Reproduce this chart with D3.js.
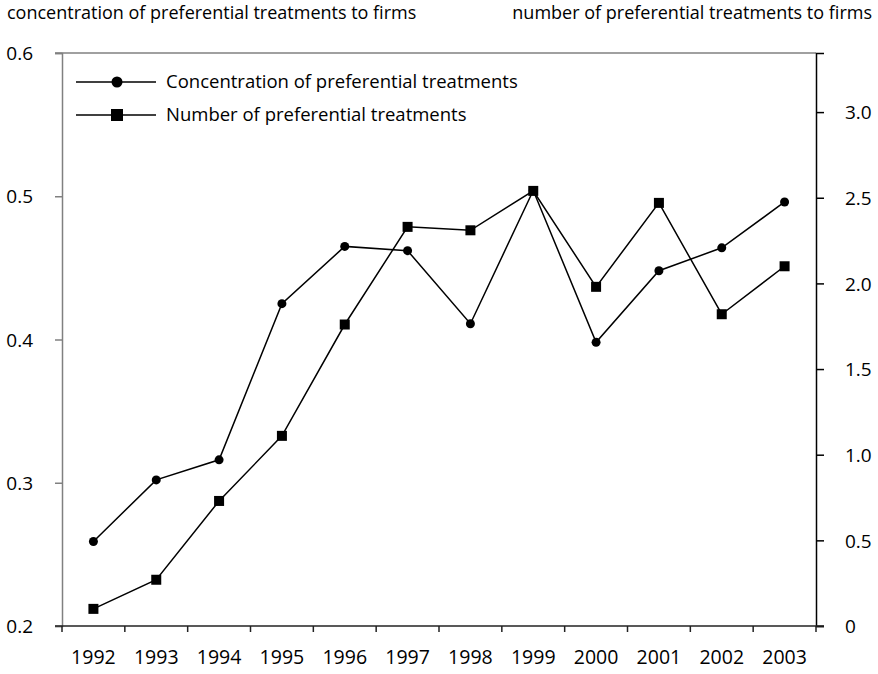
<!DOCTYPE html>
<html>
<head>
<meta charset="utf-8">
<script src="https://cdn.jsdelivr.net/npm/d3@7"></script>
<style>
  body { margin: 0; background: #fff; }
  text { font-family: "Open Sans", sans-serif; fill: #000; }
</style>
</head>
<body>
<div id="vis"></div>
<script>
// data
var years = ["1992", "1993", "1994", "1995", "1996", "1997", "1998", "1999", "2000", "2001", "2002", "2003"];
var concentration = [0.259, 0.302, 0.316, 0.425, 0.465, 0.462, 0.411, 0.504, 0.398, 0.448, 0.464, 0.496];
var number = [0.10, 0.27, 0.73, 1.11, 1.76, 2.33, 2.31, 2.54, 1.98, 2.47, 1.82, 2.10];
var leftTicks = [0.2, 0.3, 0.4, 0.5, 0.6];
var rightTicks = [0, 0.5, 1.0, 1.5, 2.0, 2.5, 3.0];
var seriesNames = ["Concentration of preferential treatments", "Number of preferential treatments"];

var width = 878, height = 674;
var margin = {top: 53, right: 62, bottom: 48, left: 62};

var svg = d3.select("#vis").append("svg")
    .attr("width", width)
    .attr("height", height);

// scales
var x = d3.scaleBand().domain(years).range([margin.left, width - margin.right]);
var yL = d3.scaleLinear().domain([0.2, 0.6]).range([height - margin.bottom, margin.top]);
var yR = d3.scaleLinear().domain([0, 3.345]).range([height - margin.bottom, margin.top]);

var x0 = x.range()[0], x1 = x.range()[1];
var yBottom = yL.range()[0], yTop = yL.range()[1];

// top border (gray)
svg.append("line")
    .attr("x1", x0 - 7).attr("x2", x1)
    .attr("y1", yTop).attr("y2", yTop)
    .attr("stroke", "#808080").attr("stroke-width", 1.5);

// left axis
var gL = svg.append("g")
    .attr("transform", "translate(" + x0 + ",0)")
    .call(d3.axisLeft(yL).tickValues(leftTicks).tickSize(7).tickPadding(22).tickFormat(d3.format(".1f")));
gL.select(".domain").attr("stroke", "#808080").attr("stroke-width", 1.5);
gL.selectAll(".tick line").attr("stroke", "#808080").attr("stroke-width", 1.5);
gL.selectAll(".tick text").style("font-size", "19px").attr("dy", "0.35em");

// right axis
var gR = svg.append("g")
    .attr("transform", "translate(" + x1 + ",0)")
    .call(d3.axisRight(yR).tickValues(rightTicks).tickSize(8).tickPadding(21)
      .tickFormat(function(d) { return d === 0 ? "0" : d3.format(".1f")(d); }));
gR.select(".domain").attr("stroke", "#000").attr("stroke-width", 1.5);
gR.selectAll(".tick line").attr("stroke", "#000").attr("stroke-width", 1.5);
gR.selectAll(".tick text").style("font-size", "19px").attr("dy", "0.35em");

// bottom axis: labels at band centres, ticks at band edges
var gB = svg.append("g")
    .attr("transform", "translate(0," + yBottom + ")")
    .call(d3.axisBottom(x).tickSize(0).tickPadding(24));
gB.select(".domain").remove();
gB.selectAll(".tick text").style("font-size", "19.5px");

var edges = years.map(function(d) { return x(d); }).concat([x1]);
svg.append("g").selectAll("line")
  .data(edges)
  .enter().append("line")
    .attr("x1", function(d) { return d; }).attr("x2", function(d) { return d; })
    .attr("y1", yBottom).attr("y2", yBottom + 6)
    .attr("stroke", "#222").attr("stroke-width", 1.5);
svg.append("line")
    .attr("x1", x0 - 7).attr("x2", x1 + 8)
    .attr("y1", yBottom).attr("y2", yBottom)
    .attr("stroke", "#222").attr("stroke-width", 1.5);

// axis titles
svg.append("text")
    .attr("x", 7).attr("y", 19)
    .style("font-size", "18px")
    .text("concentration of preferential treatments to firms");
svg.append("text")
    .attr("x", 872).attr("y", 19)
    .attr("text-anchor", "end")
    .style("font-size", "18px")
    .text("number of preferential treatments to firms");

var cx = function(d, i) { return x(years[i]) + x.bandwidth() / 2; };

// concentration series (left axis, circles)
var lineL = d3.line()
    .x(function(d, i) { return cx(d, i); })
    .y(function(d) { return yL(d); });
svg.append("path")
    .datum(concentration)
    .attr("d", lineL)
    .attr("fill", "none").attr("stroke", "#000").attr("stroke-width", 1.5);

// number series (right axis, squares)
var lineR = d3.line()
    .x(function(d, i) { return cx(d, i); })
    .y(function(d) { return yR(d); });
svg.append("path")
    .datum(number)
    .attr("d", lineR)
    .attr("fill", "none").attr("stroke", "#000").attr("stroke-width", 1.5);

svg.append("g").selectAll("rect")
  .data(number)
  .enter().append("rect")
    .attr("x", function(d, i) { return cx(d, i) - 5; })
    .attr("y", function(d) { return yR(d) - 5; })
    .attr("width", 10).attr("height", 10)
    .attr("fill", "#000");

svg.append("g").selectAll("circle")
  .data(concentration)
  .enter().append("circle")
    .attr("cx", function(d, i) { return cx(d, i); })
    .attr("cy", function(d) { return yL(d); })
    .attr("r", 4.5)
    .attr("fill", "#000");

// legend
var legend = svg.append("g").attr("transform", "translate(76,82)");
var rows = legend.selectAll("g")
  .data(seriesNames)
  .enter().append("g")
    .attr("transform", function(d, i) { return "translate(0," + (i * 33) + ")"; });
rows.append("line")
    .attr("x1", 0).attr("x2", 80).attr("y1", 0).attr("y2", 0)
    .attr("stroke", "#000").attr("stroke-width", 1.5);
rows.filter(function(d, i) { return i === 0; }).append("circle")
    .attr("cx", 41).attr("cy", 0).attr("r", 5.5).attr("fill", "#000");
rows.filter(function(d, i) { return i === 1; }).append("rect")
    .attr("x", 35).attr("y", -6).attr("width", 12).attr("height", 12).attr("fill", "#000");
rows.append("text")
    .attr("x", 90).attr("dy", "0.35em")
    .style("font-size", "18.5px")
    .text(function(d) { return d; });
</script>
</body>
</html>
